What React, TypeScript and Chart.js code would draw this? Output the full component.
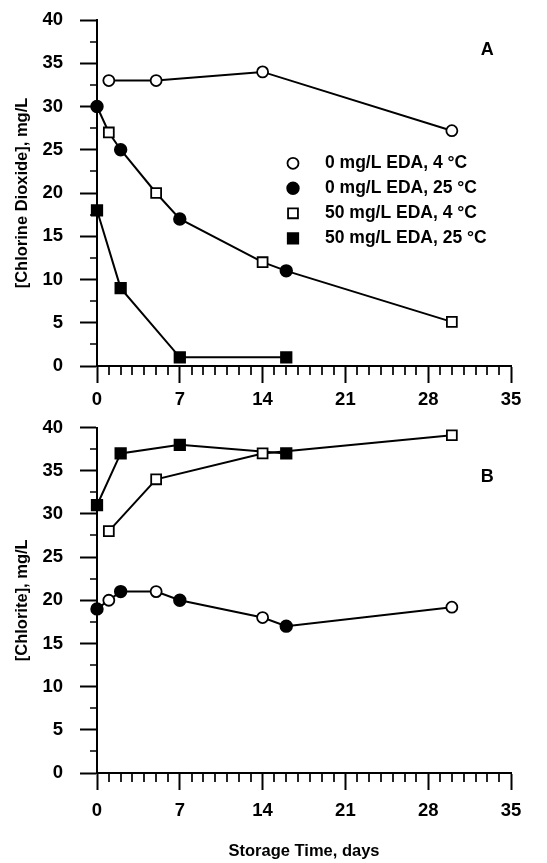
import React, { useEffect, useRef } from "react";
import { Chart, registerables } from "chart.js";
Chart.register(...registerables);

const FONT = "'Liberation Sans', Arial, Helvetica, sans-serif";
const INK = "#000";

// ---- data ----
const DAYS_4C = [1, 5, 14, 30];
const DAYS_25C = [0, 2, 7, 16];

const A_0EDA_4C = [33, 33, 34, 27.2];
const A_0EDA_25C = [30, 25, 17, 11];
const A_50EDA_4C = [27, 20, 12, 5.1];
const A_50EDA_25C = [18, 9, 1, 1];

const B_0EDA_4C = [20, 21, 18, 19.2];
const B_0EDA_25C = [19, 21, 20, 17];
const B_50EDA_4C = [28, 34, 37, 39.1];
const B_50EDA_25C = [31, 37, 38, 37];

const SERIES_LABELS = [
  "0 mg/L EDA, 4 °C",
  "0 mg/L EDA, 25 °C",
  "50 mg/L EDA, 4 °C",
  "50 mg/L EDA, 25 °C",
];

const X_TICKS = [0, 7, 14, 21, 28, 35];
const Y_TICKS = [0, 5, 10, 15, 20, 25, 30, 35, 40];
const X_MINOR_STEP = 1;
const Y_MINOR_STEP = 2.5;

type Pt = { x: number; y: number };
const pts = (xs: number[], ys: number[]): Pt[] => xs.map((x, i) => ({ x, y: ys[i] }));
const joined = (a: Pt[], b: Pt[]) => [...a, ...b].sort((p, q) => p.x - q.x);

const MARKERS = [
  { style: "circle", fill: "#fff", radius: 5.5 },
  { style: "circle", fill: INK, radius: 5.8 },
  { style: "rect", fill: "#fff", radius: 7 },
  { style: "rect", fill: INK, radius: 7.4 },
];

type PanelSpec = {
  values: number[][];
  ownLine: boolean[];
  join: [number, number];
  yTitle: string;
  xTitle?: string;
  letter: string;
  letterAt: [number, number];
  legend: boolean;
  padTop: number;
  xHeight: number;
  xTickPad: number;
  height: number;
};

const PANEL_A: PanelSpec = {
  values: [A_0EDA_4C, A_0EDA_25C, A_50EDA_4C, A_50EDA_25C],
  ownLine: [true, false, false, true],
  join: [1, 2],
  yTitle: "[Chlorine Dioxide], mg/L",
  letter: "A",
  letterAt: [33, 36.5],
  legend: true,
  padTop: 20,
  xHeight: 49,
  xTickPad: 6,
  height: 415,
};

const PANEL_B: PanelSpec = {
  values: [B_0EDA_4C, B_0EDA_25C, B_50EDA_4C, B_50EDA_25C],
  ownLine: [false, false, true, true],
  join: [0, 1],
  yTitle: "[Chlorite], mg/L",
  xTitle: "Storage Time, days",
  letter: "B",
  letterAt: [33, 34.3],
  legend: false,
  padTop: 22.5,
  xHeight: 90,
  xTickPad: 10,
  height: 458,
};

const extrasPlugin = {
  id: "extras",
  afterDraw(chart: any, _args: any, o: any) {
    const { ctx, chartArea: ca, scales } = chart;
    const x = scales.x;
    const y = scales.y;
    ctx.save();
    ctx.strokeStyle = INK;
    ctx.lineWidth = 1.7;
    ctx.beginPath();
    for (let v = x.min; v <= x.max + 1e-9; v += X_MINOR_STEP) {
      if (X_TICKS.includes(v)) continue;
      const px = Math.round(x.getPixelForValue(v));
      ctx.moveTo(px, ca.bottom);
      ctx.lineTo(px, ca.bottom + 9);
    }
    for (let v = y.min; v <= y.max + 1e-9; v += Y_MINOR_STEP) {
      if (Y_TICKS.includes(v)) continue;
      const py = Math.round(y.getPixelForValue(v));
      ctx.moveTo(ca.left, py);
      ctx.lineTo(ca.left - 7, py);
    }
    ctx.stroke();

    ctx.fillStyle = INK;
    ctx.font = `bold 18px ${FONT}`;
    ctx.textAlign = "center";
    ctx.textBaseline = "middle";
    ctx.fillText(o.letter, x.getPixelForValue(o.letterAt[0]), y.getPixelForValue(o.letterAt[1]));

    if (o.legend) {
      const items = chart.data.datasets.filter((d: any) => d.label);
      items.forEach((d: any, i: number) => {
        const my = 163.3 + i * 25;
        const mx = 293;
        const r = d.pointRadius;
        ctx.beginPath();
        ctx.lineWidth = d.pointBorderWidth;
        ctx.fillStyle = d.pointBackgroundColor;
        ctx.strokeStyle = d.pointBorderColor;
        if (d.pointStyle === "circle") ctx.arc(mx, my, r, 0, Math.PI * 2);
        else {
          const h = r * Math.SQRT1_2;
          ctx.rect(mx - h, my - h, 2 * h, 2 * h);
        }
        ctx.fill();
        ctx.stroke();
        ctx.fillStyle = INK;
        ctx.font = `bold 17.5px ${FONT}`;
        ctx.textAlign = "left";
        ctx.textBaseline = "middle";
        ctx.fillText(d.label, 325, my);
      });
    }
    ctx.restore();
  },
};

function buildConfig(p: PanelSpec): any {
  const series = p.values.map((ys, i) => pts(i % 2 === 0 ? DAYS_4C : DAYS_25C, ys));
  const markerSets = series.map((data, i) => ({
    label: SERIES_LABELS[i],
    data,
    clip: false,
    showLine: p.ownLine[i],
    borderColor: INK,
    borderWidth: 2,
    pointStyle: MARKERS[i].style,
    pointRadius: MARKERS[i].radius,
    pointBorderWidth: 1.8,
    pointBackgroundColor: MARKERS[i].fill,
    pointBorderColor: INK,
  }));
  const lineSet = {
    label: "",
    data: joined(series[p.join[0]], series[p.join[1]]),
    clip: false,
    showLine: true,
    borderColor: INK,
    borderWidth: 2,
    pointRadius: 0,
  };
  const tickFont = { family: FONT, size: 18.5, weight: "bold" };
  const titleFont = { family: FONT, size: 16.5, weight: "bold" };
  return {
    type: "scatter",
    data: { datasets: [...markerSets, lineSet] },
    plugins: [extrasPlugin],
    options: {
      animation: false,
      responsive: false,
      devicePixelRatio: 1,
      events: [],
      layout: { padding: { top: p.padTop, right: 36, bottom: 0, left: 0 } },
      plugins: {
        legend: { display: false },
        tooltip: { enabled: false },
        extras: { letter: p.letter, letterAt: p.letterAt, legend: p.legend },
      },
      scales: {
        x: {
          type: "linear",
          min: X_TICKS[0],
          max: X_TICKS[X_TICKS.length - 1],
          afterBuildTicks: (s: any) => {
            s.ticks = X_TICKS.map((v) => ({ value: v }));
          },
          afterFit: (s: any) => {
            s.height = p.xHeight;
            s.paddingLeft = 0;
            s.paddingRight = 0;
          },
          ticks: { font: tickFont, color: INK, padding: p.xTickPad, maxRotation: 0, autoSkip: false },
          grid: { drawOnChartArea: false, tickLength: 17, tickWidth: 2, tickColor: INK, color: INK },
          border: { color: INK, width: 2 },
          title: p.xTitle
            ? { display: true, text: p.xTitle, font: titleFont, color: INK, padding: { top: 0, bottom: 2 } }
            : { display: false },
        },
        y: {
          type: "linear",
          min: Y_TICKS[0],
          max: Y_TICKS[Y_TICKS.length - 1],
          afterBuildTicks: (s: any) => {
            s.ticks = Y_TICKS.map((v) => ({ value: v }));
          },
          afterFit: (s: any) => {
            s.width = 97;
            s.paddingTop = 0;
            s.paddingBottom = 0;
          },
          ticks: { font: tickFont, color: INK, padding: 17, autoSkip: false },
          grid: { drawOnChartArea: false, tickLength: 17, tickWidth: 2, tickColor: INK, color: INK },
          border: { color: INK, width: 2 },
          title: { display: true, text: p.yTitle, font: titleFont, color: INK, padding: { top: 13, bottom: 0 } },
        },
      },
    },
  };
}

function Panel({ spec, top }: { spec: PanelSpec; top: number }) {
  const ref = useRef<HTMLCanvasElement>(null);
  useEffect(() => {
    const chart = new Chart(ref.current as HTMLCanvasElement, buildConfig(spec));
    return () => chart.destroy();
  }, [spec]);
  return (
    <canvas
      ref={ref}
      width={547}
      height={spec.height}
      style={{ position: "absolute", left: 0, top, width: 547, height: spec.height }}
    />
  );
}

export default function App() {
  return (
    <div style={{ position: "absolute", left: 0, top: 0, width: 547, height: 863, background: "#fff", overflow: "hidden" }}>
      <Panel spec={PANEL_A} top={0} />
      <Panel spec={PANEL_B} top={405} />
    </div>
  );
}
